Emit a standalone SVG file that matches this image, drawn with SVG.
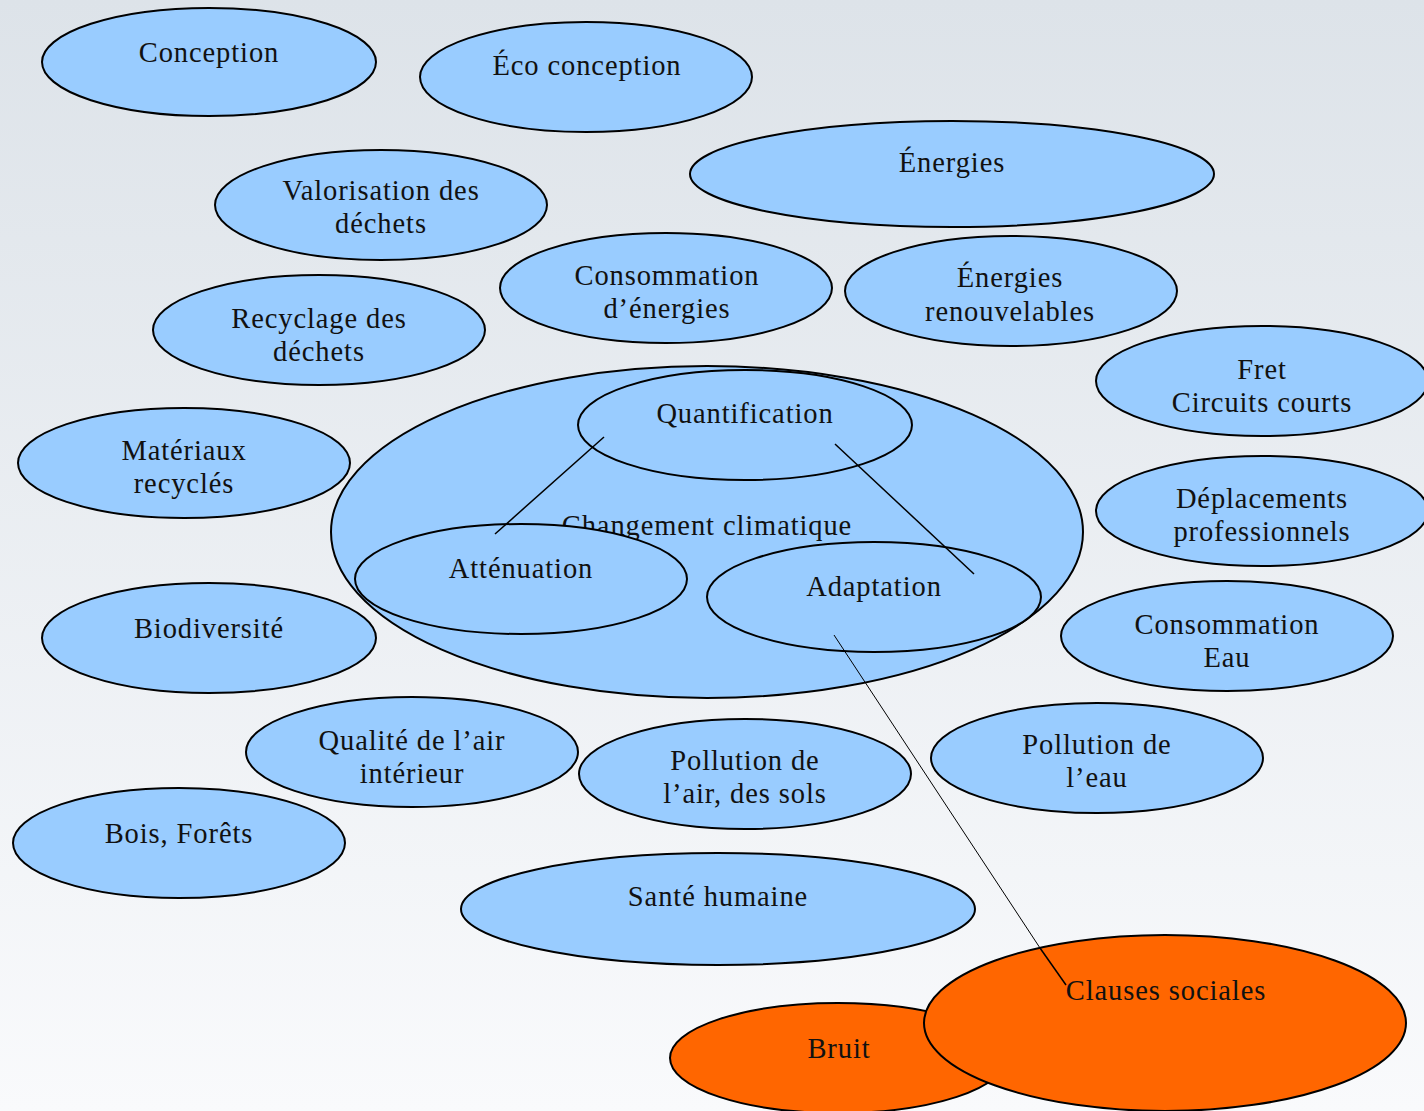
<svg xmlns="http://www.w3.org/2000/svg" width="1424" height="1111" viewBox="0 0 1424 1111">
<defs>
<linearGradient id="bg" x1="0" y1="0" x2="0" y2="1">
<stop offset="0" stop-color="#dde3e9"/>
<stop offset="1" stop-color="#f9fafc"/>
</linearGradient>
<style>
.n{fill:#99ccff;stroke:#000;stroke-width:2}
.o{fill:#ff6600;stroke:#000;stroke-width:2}
text{font-family:"Liberation Serif","DejaVu Serif",serif;font-size:28.5px;fill:#111;text-anchor:middle;letter-spacing:0.9px}
.c{fill:none;stroke:#000}
</style>
</defs>
<rect width="1424" height="1111" fill="url(#bg)"/>
<g id="n-conception"><ellipse class="n" cx="209" cy="62" rx="167" ry="54"/><text x="209" y="62">Conception</text></g>
<g id="n-eco"><ellipse class="n" cx="586" cy="77" rx="166" ry="55"/><text x="587" y="75">Éco conception</text></g>
<g id="n-energies"><ellipse class="n" cx="952" cy="174" rx="262" ry="53"/><text x="952" y="172">Énergies</text></g>
<g id="n-valorisation"><ellipse class="n" cx="381" cy="205" rx="166" ry="55"/><text x="381" y="200">Valorisation des</text><text x="381" y="233">déchets</text></g>
<g id="n-conso-energies"><ellipse class="n" cx="666" cy="288" rx="166" ry="55"/><text x="667" y="285">Consommation</text><text x="667" y="318">d’énergies</text></g>
<g id="n-enr"><ellipse class="n" cx="1011" cy="291" rx="166" ry="55"/><text x="1010" y="287">Énergies</text><text x="1010" y="321">renouvelables</text></g>
<g id="n-recyclage"><ellipse class="n" cx="319" cy="330" rx="166" ry="55"/><text x="319" y="328">Recyclage des</text><text x="319" y="361">déchets</text></g>
<g id="n-fret"><ellipse class="n" cx="1262" cy="381" rx="166" ry="55"/><text x="1262" y="379">Fret</text><text x="1262" y="412">Circuits courts</text></g>
<g id="n-materiaux"><ellipse class="n" cx="184" cy="463" rx="166" ry="55"/><text x="184" y="460">Matériaux</text><text x="184" y="493">recyclés</text></g>
<g id="n-changement"><ellipse class="n" cx="707" cy="532" rx="376" ry="166"/><text x="707" y="535">Changement climatique</text></g>
<g id="n-quantification"><ellipse class="n" cx="745" cy="425" rx="167" ry="55"/><text x="745" y="423">Quantification</text></g>
<g id="n-attenuation"><ellipse class="n" cx="521" cy="579" rx="166" ry="55"/><text x="521" y="578">Atténuation</text></g>
<g id="n-adaptation"><ellipse class="n" cx="874" cy="597" rx="167" ry="55"/><text x="874" y="596">Adaptation</text></g>
<g id="n-deplacements"><ellipse class="n" cx="1262" cy="511" rx="166" ry="55"/><text x="1262" y="508">Déplacements</text><text x="1262" y="541">professionnels</text></g>
<g id="n-biodiversite"><ellipse class="n" cx="209" cy="638" rx="167" ry="55"/><text x="209" y="638">Biodiversité</text></g>
<g id="n-conso-eau"><ellipse class="n" cx="1227" cy="636" rx="166" ry="55"/><text x="1227" y="634">Consommation</text><text x="1227" y="667">Eau</text></g>
<g id="n-qualite-air"><ellipse class="n" cx="412" cy="752" rx="166" ry="55"/><text x="412" y="750">Qualité de l’air</text><text x="412" y="783">intérieur</text></g>
<g id="n-pollution-air"><ellipse class="n" cx="745" cy="774" rx="166" ry="55"/><text x="745" y="770">Pollution de</text><text x="745" y="803">l’air, des sols</text></g>
<g id="n-pollution-eau"><ellipse class="n" cx="1097" cy="758" rx="166" ry="55"/><text x="1097" y="754">Pollution de</text><text x="1097" y="787">l’eau</text></g>
<g id="n-bois"><ellipse class="n" cx="179" cy="843" rx="166" ry="55"/><text x="179" y="843">Bois, Forêts</text></g>
<g id="n-sante"><ellipse class="n" cx="718" cy="909" rx="257" ry="56"/><text x="718" y="906">Santé humaine</text></g>
<g id="n-bruit"><ellipse class="o" cx="838" cy="1058" rx="168" ry="55"/><text x="839" y="1058">Bruit</text></g>
<g id="n-clauses"><ellipse class="o" cx="1165" cy="1023" rx="241" ry="88"/><text x="1166" y="1000">Clauses sociales</text></g>
<g id="connectors">
<line class="c" x1="604" y1="437" x2="495" y2="534" stroke-width="1.5"/>
<line class="c" x1="835" y1="444" x2="974" y2="574" stroke-width="1.5"/>
<polyline class="c" points="834,635 1040,948" stroke-width="1"/>
<polyline class="c" points="1040,948 1066,985" stroke-width="1.5"/>
</g>
</svg>
